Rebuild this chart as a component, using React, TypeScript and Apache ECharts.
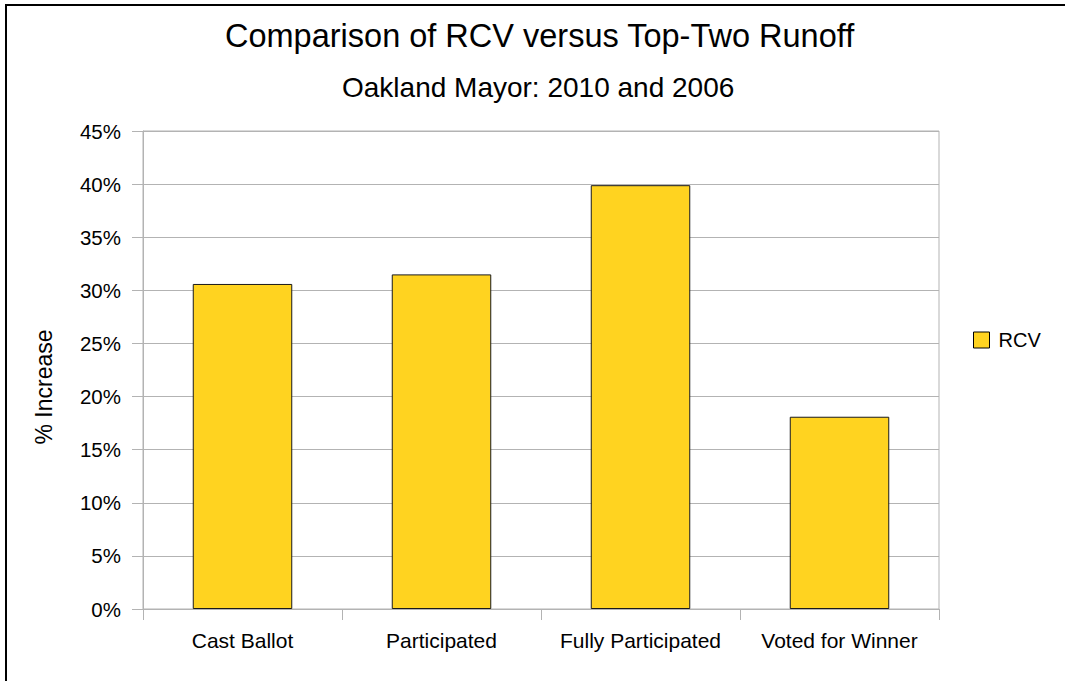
import React, { useEffect, useRef } from "react";
import * as echarts from "echarts";

const categories = ["Cast Ballot", "Participated", "Fully Participated", "Voted for Winner"];
const rcvValues = [30.6, 31.5, 39.9, 18.1];
const seriesName = "RCV";
const titleText = "Comparison of RCV versus Top-Two Runoff";
const subtitleText = "Oakland Mayor: 2010 and 2006";
const yAxisName = "% Increase";

const FONT = "'Liberation Sans', Arial, sans-serif";

export default function App() {
  const ref = useRef<HTMLDivElement>(null);
  useEffect(() => {
    if (!ref.current) return;
    const chart = echarts.init(ref.current, null, { renderer: "svg" });
    chart.setOption({
      animation: false,
      backgroundColor: "#ffffff",
      textStyle: { fontFamily: FONT },
      title: [
        {
          text: titleText,
          left: 225,
          top: 19,
          padding: 0,
          textStyle: { fontSize: 32.5, fontWeight: "normal", color: "#000", fontFamily: FONT },
        },
        {
          text: subtitleText,
          left: 342,
          top: 73,
          padding: 0,
          textStyle: { fontSize: 28, fontWeight: "normal", color: "#000", fontFamily: FONT },
        },
      ],
      graphic: [
        {
          type: "rect",
          shape: { x: 6, y: 5, width: 1120, height: 740 },
          style: { fill: "none", stroke: "#000", lineWidth: 2 },
          silent: true,
        },
        {
          type: "text",
          x: 44,
          y: 387,
          rotation: Math.PI / 2,
          style: {
            text: yAxisName,
            fontSize: 23,
            fontFamily: FONT,
            fill: "#000",
            align: "center",
            verticalAlign: "middle",
          },
        },
      ],
      legend: {
        data: [seriesName],
        left: 973,
        top: 330,
        padding: 0,
        icon: "rect",
        itemWidth: 16,
        itemHeight: 16,
        itemStyle: { color: "#ffd320", borderColor: "#000", borderWidth: 1 },
        textStyle: { fontSize: 20, color: "#000", fontFamily: FONT, padding: [7, 0, 0, 4] },
      },
      grid: {
        left: 143,
        right: 126,
        top: 131,
        bottom: 72,
        show: true,
        borderColor: "#b3b3b3",
        borderWidth: 1,
        containLabel: false,
      },
      xAxis: {
        type: "category",
        data: categories,
        axisLine: { lineStyle: { color: "#b3b3b3", width: 1 } },
        axisTick: { show: true, interval: 0, length: 11, lineStyle: { color: "#b3b3b3" } },
        axisLabel: { interval: 0, fontSize: 21, color: "#000", margin: 21, fontFamily: FONT },
      },
      yAxis: {
        type: "value",
        min: 0,
        max: 45,
        interval: 5,
        axisLine: { show: true, lineStyle: { color: "#b3b3b3", width: 1 } },
        axisTick: { show: true, length: 11, lineStyle: { color: "#b3b3b3" } },
        axisLabel: { fontSize: 20.5, color: "#000", margin: 22, formatter: "{value}%", fontFamily: FONT },
        splitLine: { show: true, lineStyle: { color: "#b3b3b3", width: 1 } },
      },
      series: [
        {
          name: seriesName,
          type: "bar",
          data: rcvValues,
          barWidth: "50%",
          itemStyle: { color: "#ffd320", borderColor: "#1a1a1a", borderWidth: 1 },
        },
      ],
    });
    return () => chart.dispose();
  }, []);
  return (
    <div
      ref={ref}
      style={{ position: "fixed", left: 0, top: 0, width: 1065, height: 681 }}
    />
  );
}
